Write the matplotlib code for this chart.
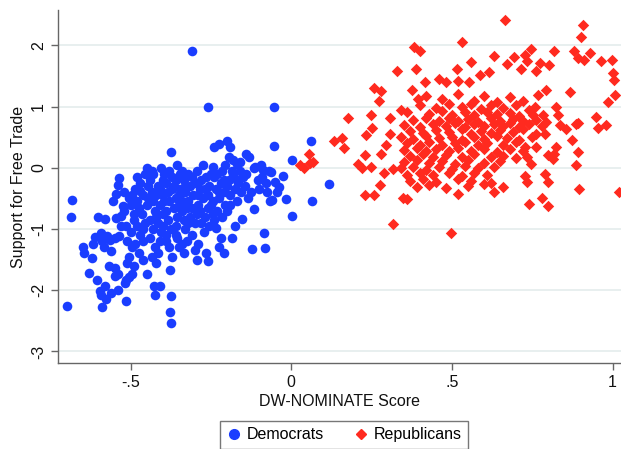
import matplotlib
matplotlib.use("Agg")
import matplotlib.pyplot as plt
from matplotlib.lines import Line2D

plt.rcParams['font.family'] = ['Liberation Sans', 'DejaVu Sans']

# ---- Democrats (DW-NOMINATE, support for free trade) ----
dem_pts = [
    (-0.697,-2.26),(-0.682,-0.53),(-0.687,-0.81),(-0.649,-1.29),(-0.645,-1.40),(-0.620,-1.48),
    (-0.630,-1.72),(-0.605,-1.84),(-0.618,-1.24),(-0.612,-1.13),(-0.600,-0.80),(-0.589,-1.19),
    (-0.592,-1.07),(-0.584,-1.30),(-0.581,-0.84),(-0.596,-2.01),(-0.591,-2.08),(-0.589,-2.27),
    (-0.577,-2.14),(-0.581,-1.93),(-0.568,-1.61),(-0.560,-2.05),(-0.556,-0.54),(-0.565,-1.18),
    (-0.560,-1.36),(-0.575,-1.12),
    (-0.550,-1.76),(-0.550,-1.64),(-0.538,-1.73),(-0.540,-2.00),(-0.540,-0.28),(-0.535,-0.16),
    (-0.544,-0.42),(-0.545,-0.82),(-0.530,-0.78),(-0.525,-0.62),(-0.520,-0.70),(-0.550,-1.15),
    (-0.535,-1.12),(-0.513,-2.18),(-0.504,-1.78),(-0.513,-1.84),(-0.518,-1.88),(-0.497,-1.73),
    (-0.510,-1.55),(-0.505,-1.45),(-0.495,-1.30),(-0.510,-1.20),(-0.500,-1.05),(-0.515,-0.95),
    (-0.490,-0.85),(-0.505,-0.50),(-0.495,-0.45),(-0.480,-0.55),(-0.485,-0.35),(-0.470,-0.38),
    (-0.475,-0.65),(-0.465,-0.75),(-0.480,-0.95),(-0.470,-1.10),(-0.485,-1.25),(-0.475,-1.40),
    (-0.460,-1.50),(-0.490,-1.60),(-0.449,-1.73),(-0.460,-1.20),(-0.455,-0.90),(-0.450,-0.60),
    (-0.449,-0.01),(-0.455,-0.10),(-0.445,-0.30),(-0.460,-0.45),
    (-0.440,-0.20),(-0.435,-0.40),(-0.430,-0.55),(-0.425,-0.70),(-0.440,-0.85),(-0.430,-1.00),
    (-0.440,-1.15),(-0.425,-1.30),(-0.435,-1.45),(-0.420,-1.55),(-0.428,-1.93),(-0.424,-2.08),
    (-0.408,-1.93),(-0.415,-1.40),(-0.410,-1.20),(-0.405,-1.05),(-0.415,-0.90),(-0.400,-0.75),
    (-0.410,-0.60),(-0.400,-0.45),(-0.415,-0.30),(-0.404,-0.01),(-0.395,-0.10),(-0.390,-0.25),
    (-0.385,-0.40),(-0.380,-0.55),(-0.390,-0.70),(-0.385,-0.85),(-0.375,-1.00),(-0.390,-1.10),
    (-0.380,-1.30),(-0.370,-1.45),(-0.379,-1.67),(-0.375,-2.09),(-0.377,-2.36),(-0.375,-2.53),
    (-0.375,0.26),(-0.370,-0.15),(-0.365,-0.30),(-0.360,-0.50),(-0.365,-0.65),(-0.355,-0.80),
    (-0.360,-0.95),(-0.355,-1.15),(-0.350,-1.30),(-0.355,0.04),(-0.345,-0.35),(-0.350,-0.60),
    (-0.340,-0.05),(-0.335,-0.20),(-0.330,-0.40),(-0.340,-0.70),(-0.335,-0.85),(-0.330,-1.00),
    (-0.325,-1.20),(-0.335,-1.40),(-0.320,-0.55),(-0.315,-0.30),(-0.310,-0.15),(-0.305,-0.45),
    (-0.310,-0.65),(-0.300,-0.90),(-0.310,-1.10),(-0.300,-1.35),(-0.295,-1.50),(-0.290,-1.25),
    (-0.295,-0.75),(-0.290,-0.60),(-0.285,-0.35),(-0.280,-0.20),(-0.276,0.04),(-0.275,-0.50),
    (-0.270,-0.80),(-0.272,-1.05),(-0.265,-1.40),(-0.260,-1.53),(-0.260,-0.65),(-0.255,-0.30),
    (-0.250,-0.10),(-0.255,-0.95),(-0.309,1.906),(-0.259,0.99),
    (-0.244,0.02),(-0.242,0.34),(-0.226,0.39),(-0.240,-0.15),(-0.235,-0.35),(-0.245,-0.55),
    (-0.230,-0.70),(-0.240,-0.85),(-0.235,-0.98),(-0.225,-0.50),(-0.220,-0.25),(-0.215,-0.05),
    (-0.210,-0.40),(-0.205,-0.60),(-0.215,-0.80),(-0.220,-1.15),(-0.225,-1.30),(-0.210,-1.40),
    (-0.199,0.44),(-0.192,0.34),(-0.195,0.18),(-0.195,-0.20),(-0.190,-0.45),(-0.200,-0.70),
    (-0.185,-1.15),(-0.180,0.13),(-0.180,-0.10),(-0.175,-0.35),(-0.170,-0.55),(-0.175,-0.95),
    (-0.168,0.07),(-0.165,-0.25),(-0.160,-0.05),(-0.155,-0.40),
    (-0.141,0.23),(-0.133,0.18),(-0.140,-0.10),(-0.145,-0.30),(-0.135,-0.50),(-0.154,-0.84),
    (-0.123,-1.32),(-0.117,-0.68),(-0.125,-0.40),(-0.115,0.00),(-0.112,0.02),(-0.105,-0.20),
    (-0.100,-0.35),(-0.094,0.04),(-0.090,-0.15),(-0.088,-0.04),(-0.080,-0.25),(-0.075,-0.40),
    (-0.070,-0.05),(-0.063,-0.07),(-0.065,-0.55),(-0.081,-1.31),(-0.084,-1.07),(-0.059,-0.53),
    (-0.050,-0.23),(-0.044,-0.39),(-0.037,-0.31),(-0.026,-0.14),(-0.017,-0.51),(-0.054,0.99),
    (-0.054,0.35),(0.002,0.13),(0.002,-0.78),(0.060,0.44),(0.065,-0.55),(0.118,-0.26),
    (-0.430,-0.10),(-0.420,-0.45),(-0.410,-0.35),(-0.400,-0.20),(-0.395,-0.55),(-0.380,-0.05),
    (-0.370,-0.35),(-0.360,-0.20),(-0.350,-0.45),(-0.345,-0.10),(-0.340,-0.55),(-0.330,-0.30),
    (-0.325,-0.65),(-0.320,-0.10),(-0.315,-0.80),(-0.300,-0.25),(-0.295,-0.05),(-0.290,-0.45),
    (-0.285,-0.70),(-0.280,-0.90),(-0.270,-0.35),(-0.265,-0.15),(-0.260,-0.45),(-0.250,-0.60),
    (-0.245,-0.75),(-0.230,-0.10),(-0.225,-0.40),(-0.210,-0.20),(-0.205,0.05),(-0.200,-0.30),
    (-0.190,-0.60),(-0.185,-0.05),(-0.170,-0.20),(-0.160,0.10),(-0.150,-0.15),(-0.445,-0.50),
    (-0.420,-0.80),(-0.400,-0.95),(-0.390,-1.20),(-0.360,-1.10),(-0.340,-1.25),(-0.320,-0.90),
    (-0.460,-1.00),(-0.470,-0.25),(-0.480,-0.15),(-0.435,-0.05),(-0.520,-0.40),(-0.500,-0.60),
    (-0.530,-0.95),(-0.490,-0.75),
]

# ---- Republicans ----
rep_pts = [
    (0.666,2.42),(0.909,2.34),(0.901,2.14),(0.530,2.06),(0.383,1.98),(0.402,1.91),(0.745,1.94),
    (0.819,1.91),(0.880,1.91),(0.930,1.88),(0.893,1.80),(0.911,1.76),(0.964,1.74),(0.998,1.76),
    (1.001,1.55),(1.004,1.43),(1.007,1.19),(0.985,1.08),(0.866,1.24),(0.948,0.83),(0.979,0.70),
    (0.954,0.65),(0.893,0.74),(0.887,0.72),(1.020,-0.40),(0.895,-0.35),(0.887,0.05),(0.891,0.26),
    (0.875,0.45),(0.800,-0.63),(0.779,-0.50),(0.741,-0.59),(0.798,-0.23),(0.789,-0.10),
    (0.732,-0.23),(0.726,-0.13),(0.498,-1.07),(0.317,-0.91),(0.348,-0.49),(0.359,-0.51),
    (0.258,-0.44),(0.229,-0.45),(0.178,0.81),(0.159,0.48),(0.132,0.44),(0.165,0.33),
    (0.054,0.23),(0.057,0.08),(0.038,0.00),(0.027,0.04),(0.067,0.10),(0.208,0.07),(0.221,-0.01),
    (0.249,0.02),(0.228,0.21),(0.233,0.53),(0.251,0.65),(0.248,0.86),(0.258,1.30),(0.280,1.26),
    (0.274,1.09),(0.329,1.58),(0.387,1.61),(0.307,0.81),(0.307,0.56),(0.295,0.37),(0.280,0.22),
    (0.289,-0.09),(0.316,-0.02),(0.276,-0.28),(0.340,0.94),(0.375,1.28),(0.393,1.12),
    (0.416,1.41),(0.461,1.46),(0.480,1.40),(0.517,1.62),(0.520,1.42),(0.559,1.73),(0.554,1.41),
    (0.588,1.51),(0.615,1.57),(0.631,1.83),(0.670,1.69),(0.692,1.81),(0.726,1.84),(0.732,1.75),
    (0.714,1.62),(0.763,1.58),(0.801,1.68),(0.773,1.71),(0.794,1.27),(0.769,1.19),(0.757,1.00),
    (0.751,0.86),(0.782,0.86),(0.794,0.75),(0.825,1.00),(0.831,0.86),(0.837,0.70),(0.856,0.64),
    (0.825,0.34),(0.819,0.23),(0.813,0.15),(0.800,0.21),(0.788,0.56),(0.763,0.56),(0.763,0.34),
    (0.732,0.18),(0.726,0.34),(0.745,0.07),
    (0.42,1.18),(0.47,1.12),(0.52,1.20),(0.57,1.10),(0.60,1.17),(0.64,1.08),(0.68,1.15),(0.72,1.10),
    (0.40,1.02),(0.45,0.97),(0.49,1.04),(0.53,0.99),(0.56,1.05),(0.59,0.96),(0.62,1.02),(0.66,0.98),
    (0.70,1.03),(0.74,0.95),
    (0.36,0.92),(0.43,0.88),(0.47,0.93),(0.50,0.87),(0.54,0.91),(0.57,0.86),(0.61,0.92),(0.64,0.88),
    (0.68,0.90),(0.71,0.85),
    (0.38,0.79),(0.42,0.82),(0.46,0.77),(0.49,0.81),(0.52,0.76),(0.55,0.80),(0.58,0.75),(0.62,0.82),
    (0.65,0.77),(0.69,0.80),(0.72,0.76),(0.76,0.79),
    (0.35,0.70),(0.40,0.67),(0.44,0.72),(0.48,0.69),(0.51,0.73),(0.54,0.66),(0.57,0.71),(0.60,0.68),
    (0.63,0.72),(0.66,0.69),(0.68,0.74),(0.71,0.67),(0.74,0.71),(0.78,0.69),
    (0.37,0.61),(0.41,0.57),(0.45,0.62),(0.49,0.58),(0.53,0.63),(0.56,0.56),(0.59,0.61),(0.62,0.57),
    (0.65,0.62),(0.69,0.59),(0.72,0.63),
    (0.34,0.50),(0.38,0.47),(0.42,0.52),(0.46,0.48),(0.50,0.51),(0.53,0.46),(0.57,0.50),(0.60,0.47),
    (0.64,0.52),(0.67,0.49),(0.71,0.46),(0.75,0.51),
    (0.36,0.41),(0.40,0.38),(0.43,0.42),(0.47,0.37),(0.51,0.40),(0.54,0.43),(0.58,0.38),(0.61,0.41),
    (0.66,0.37),(0.70,0.42),
    (0.35,0.29),(0.39,0.32),(0.42,0.27),(0.45,0.31),(0.49,0.28),(0.52,0.33),(0.56,0.27),(0.60,0.30),
    (0.64,0.26),(0.68,0.31),(0.72,0.28),
    (0.37,0.19),(0.41,0.22),(0.44,0.17),(0.48,0.21),(0.53,0.18),(0.57,0.22),(0.62,0.17),(0.66,0.20),
    (0.70,0.16),
    (0.35,0.09),(0.39,0.12),(0.43,0.08),(0.47,0.11),(0.51,0.07),(0.55,0.12),(0.60,0.08),(0.65,0.11),
    (0.34,-0.01),(0.38,0.02),(0.42,-0.03),(0.46,0.01),(0.50,-0.02),(0.54,0.03),(0.58,-0.01),(0.63,0.02),
    (0.36,-0.12),(0.40,-0.08),(0.44,-0.11),(0.49,-0.09),(0.53,-0.13),(0.57,-0.08),(0.61,-0.12),
    (0.37,-0.22),(0.41,-0.19),(0.45,-0.23),(0.52,-0.18),(0.56,-0.21),(0.62,-0.24),
    (0.39,-0.31),(0.43,-0.28),(0.48,-0.33),(0.55,-0.30),(0.60,-0.27),(0.66,-0.32),
    (0.52,-0.42),(0.63,-0.40),
]

x_ticks = [-0.5, 0, 0.5, 1]
x_ticklabels = ["-.5", "0", ".5", "1"]
y_ticks = [-3, -2, -1, 0, 1, 2]
y_ticklabels = ["-3", "-2", "-1", "0", "1", "2"]
series_names = ["Democrats", "Republicans"]

BLUE = "#1a3dff"
RED = "#ff2a1f"

fig = plt.figure(figsize=(6.21, 4.49), dpi=100)
ax = fig.add_axes([58/621, 1-363/449, 1-58/621, (363-10)/449])

dx = [p[0] for p in dem_pts]; dy = [p[1] for p in dem_pts]
rx = [p[0] for p in rep_pts]; ry = [p[1] for p in rep_pts]
ax.scatter(dx, dy, s=48, marker='o', color=BLUE, linewidths=0, zorder=3)
ax.scatter(rx, ry, s=34, marker='D', color=RED, linewidths=0, zorder=3)

ax.set_xlim(-0.726, 1.026)
ax.set_ylim(-3.19, 2.58)
ax.set_xticks(x_ticks)
ax.set_xticklabels(x_ticklabels, fontsize=11.5)
ax.set_yticks(y_ticks)
ax.set_yticklabels(y_ticklabels, fontsize=11.5, rotation=90, va='center')
ax.grid(axis='y', color='#e6eeee', linewidth=1.3, zorder=0)
ax.set_axisbelow(True)
for s in ['top', 'right']:
    ax.spines[s].set_visible(False)
for s in ['left', 'bottom']:
    ax.spines[s].set_color('#666666')
    ax.spines[s].set_linewidth(1.0)
ax.tick_params(axis='both', direction='out', length=5, color='#666666', width=1.0, labelcolor='#111111')
ax.set_xlabel("DW-NOMINATE Score", fontsize=11.5, color='#111111', labelpad=3)
ax.set_ylabel("Support for Free Trade", fontsize=11.5, color='#111111', labelpad=4)

handles = [Line2D([], [], marker='o', color=BLUE, linestyle='', markersize=7),
           Line2D([], [], marker='D', color=RED, linestyle='', markersize=5)]
leg = fig.legend(handles, series_names, loc='upper center', bbox_to_anchor=(344/621, 1-413/449),
                 ncol=2, fontsize=11.5, frameon=True, fancybox=False, edgecolor='#555555',
                 handletextpad=0.3, columnspacing=1.8, borderpad=0.4, handlelength=1.0)
leg.get_frame().set_linewidth(1.0)

fig.savefig("out.png", dpi=100)
